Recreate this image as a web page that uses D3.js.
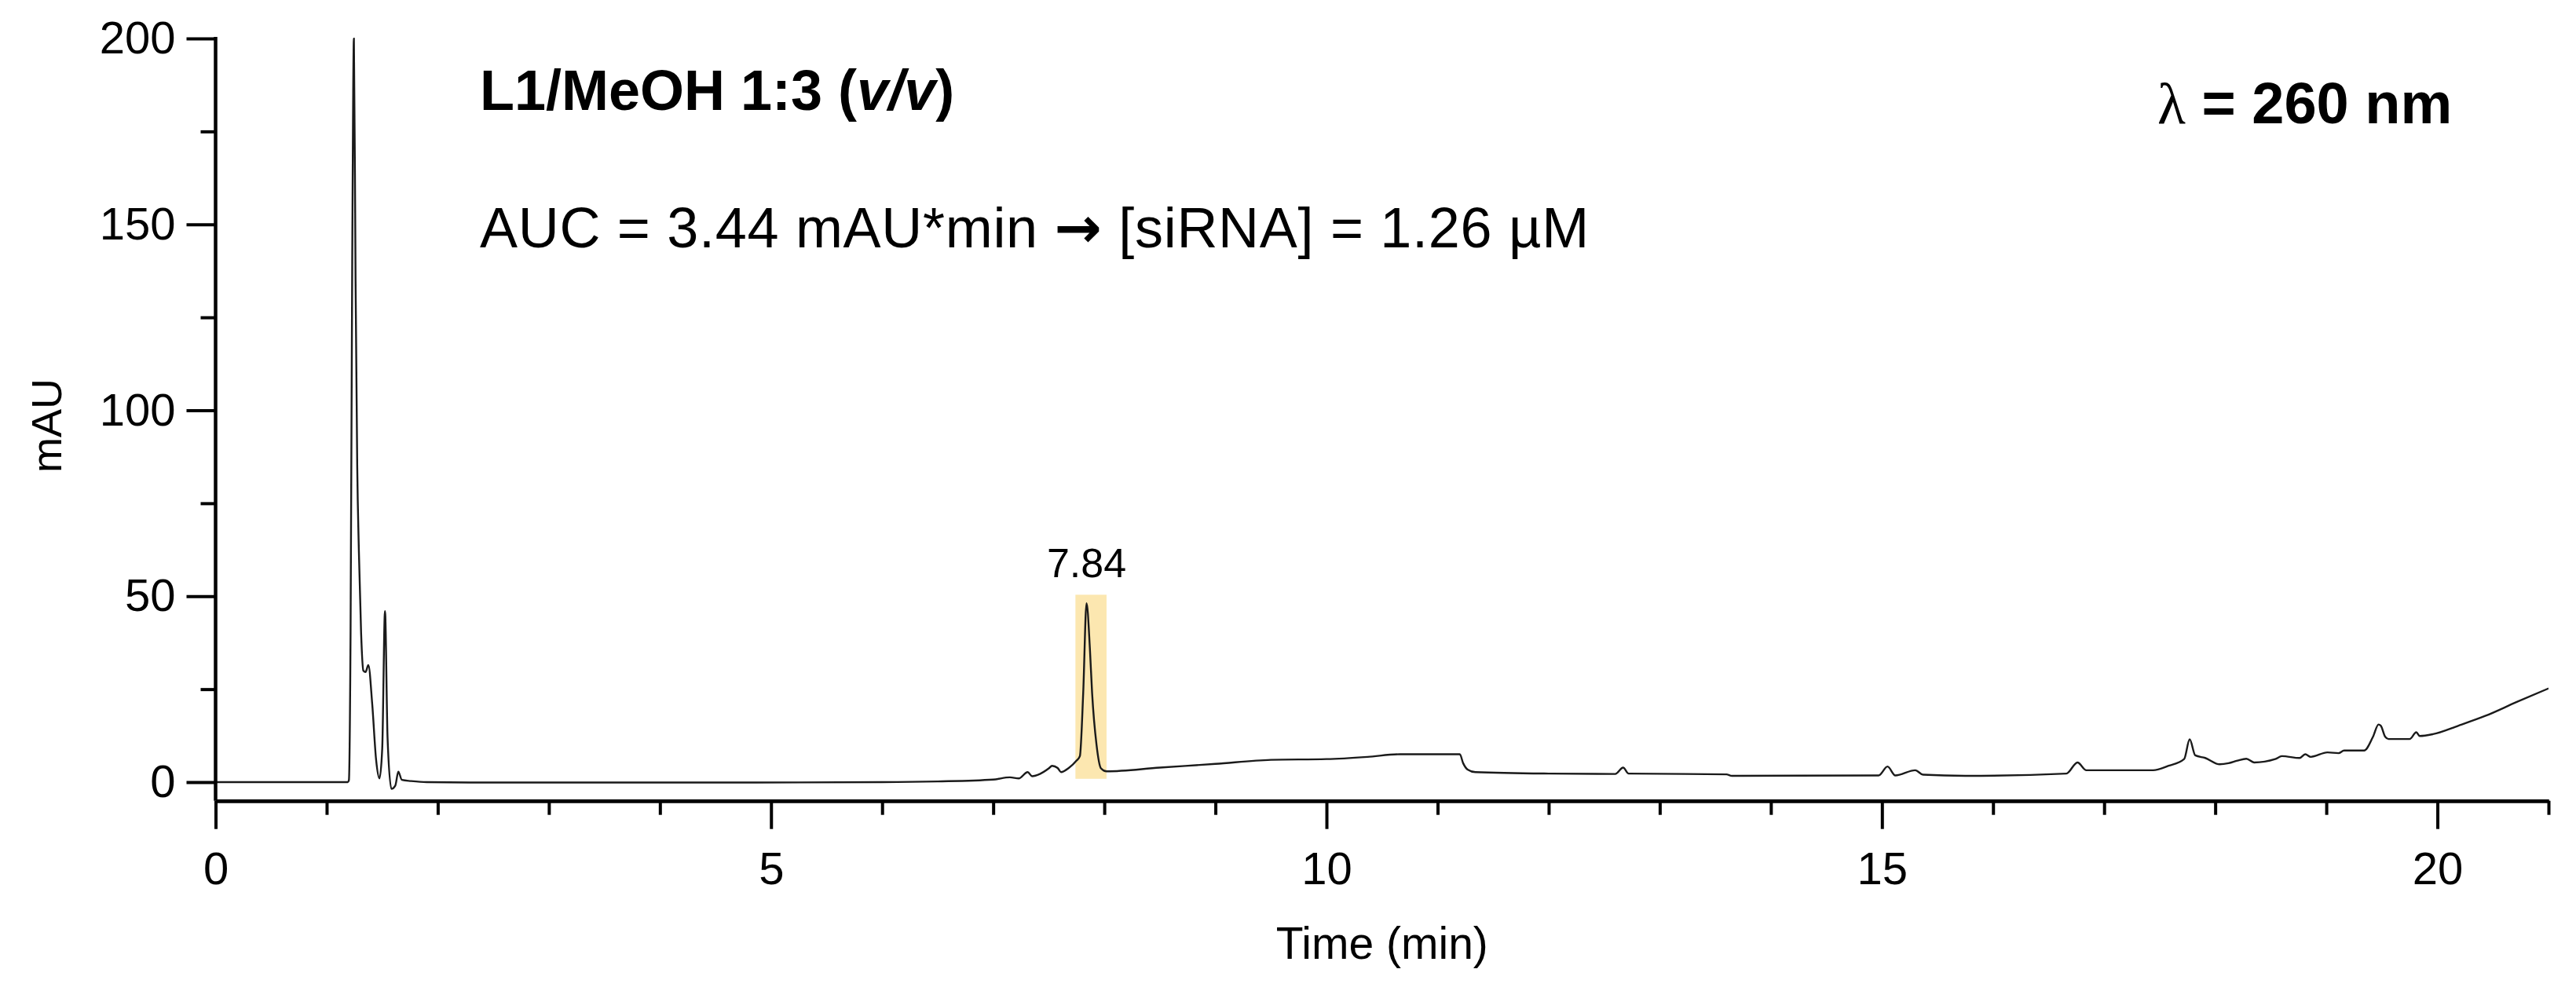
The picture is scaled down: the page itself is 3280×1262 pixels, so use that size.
<!DOCTYPE html>
<html>
<head>
<meta charset="utf-8">
<script src="https://cdn.jsdelivr.net/npm/d3@7"></script>
<style>
  body { margin: 0; background: #fff; }
  svg { display: block; font-family: "Liberation Sans", Arial, sans-serif; }
</style>
</head>
<body>
<svg id="chart"></svg>
<script>
// Chromatogram data (time in min, signal in mAU)
var timeMin = [0, 1.0, 1.19, 1.20, 1.215, 1.23, 1.245, 1.26, 1.275, 1.29,
  1.31, 1.33, 1.35, 1.375, 1.41, 1.445, 1.475, 1.50, 1.525, 1.548,
  1.583, 1.618, 1.645, 1.677, 1.76, 1.9, 2.5, 3.5, 4.86, 6.0,
  6.5, 7.0, 7.15, 7.23, 7.31, 7.35, 7.42, 7.5, 7.53, 7.58,
  7.61, 7.68, 7.75, 7.78, 7.81, 7.84, 7.87, 7.89, 7.93, 7.97,
  8.02, 8.5, 9.0, 9.5, 10.0, 10.37, 10.66, 11.2, 11.23, 11.27,
  11.34, 12.0, 12.6, 12.67, 12.72, 13.6, 13.65, 14.97, 15.05, 15.12,
  15.30, 15.37, 15.75, 16.66, 16.76, 16.84, 17.44, 17.58, 17.72, 17.77,
  17.82, 17.91, 18.04, 18.12, 18.2, 18.28, 18.35, 18.54, 18.6, 18.76,
  18.81, 18.86, 19.01, 19.11, 19.16, 19.34, 19.42, 19.47, 19.49, 19.53,
  19.56, 19.75, 19.81, 19.84, 19.96, 20.19, 20.43, 20.71, 21.0];

var signal = [0, 0, 0, 0.5, 40, 140, 200, 135, 85, 62,
  40, 30, 29.6, 31.5, 21, 6, 1, 9, 46, 12,
  -1.8, -0.9, 2.8, 0.6, 0.3, 0, -0.1, -0.1, -0.1, 0,
  0.2, 0.7, 1.3, 1.0, 2.7, 1.6, 2.2, 3.7, 4.4, 3.8,
  2.7, 3.8, 5.8, 7.0, 24, 48.1, 36, 24, 10, 3.7,
  2.9, 3.9, 4.9, 6.0, 6.2, 6.8, 7.5, 7.5, 5.1, 3.4,
  2.7, 2.3, 2.2, 3.9, 2.3, 2.1, 1.7, 1.8, 4.2, 1.8,
  3.2, 2.0, 1.7, 2.3, 5.3, 3.2, 3.2, 4.4, 6.2, 11.5,
  7.2, 6.5, 4.8, 5.1, 5.8, 6.3, 5.3, 6.2, 7.0, 6.5,
  7.5, 6.8, 8.0, 7.8, 8.5, 8.5, 12.2, 15.5, 15.2, 12.2,
  11.6, 11.6, 13.4, 12.4, 12.9, 15.2, 17.8, 21.5, 25.2];

var xMajorTicks = [0, 5, 10, 15, 20];
var xMinorTicks = d3.range(0, 22).filter(function(t){ return t % 5 != 0; });
var yMajorTicks = [0, 50, 100, 150, 200];
var yMinorTicks = [25, 75, 125, 175];

// highlighted peak: label, time window and signal window
var peakTime = 7.84;
var peakLabel = "7.84";
var peakWindow = [7.74, 8.02];
var peakRange = [0.9, 50.4];

var W = 3280, H = 1262;
var plot = {left: 274.5, right: 3245, top: 49, bottom: 1019.7};

var svg = d3.select("#chart").attr("width", W).attr("height", H);

var x = d3.scaleLinear().domain([0, 21]).range([plot.left, plot.right]),
    y = d3.scaleLinear().domain([-5, 200]).range([plot.bottom, plot.top]);

var data = d3.zip(timeMin, signal);

//Peak highlight box (drawn under the trace)
svg.append("rect")
  .attr("x", x(peakWindow[0]))
  .attr("y", y(peakRange[1]))
  .attr("width", x(peakWindow[1]) - x(peakWindow[0]))
  .attr("height", y(peakRange[0]) - y(peakRange[1]))
  .style("fill", "#fce7b0");

svg.append("defs").append("clipPath").attr("id", "clip")
  .append("rect")
    .attr("x", plot.left).attr("y", plot.top - 1)
    .attr("width", plot.right - plot.left).attr("height", plot.bottom - plot.top);

var line = d3.line()
  .x(function(d){ return x(d[0]); })
  .y(function(d){ return y(d[1]); })
  .curve(d3.curveMonotoneX);

svg.append("path")
  .datum(data)
  .attr("clip-path", "url(#clip)")
  .attr("d", line)
  .style("fill", "none")
  .style("stroke", "#1a1a1a")
  .style("stroke-width", "2.4px")
  .style("stroke-linejoin", "round");

//X axis: minor ticks then major ticks with labels
var xAxisG = svg.append("g").attr("transform", "translate(0," + plot.bottom + ")");
xAxisG.append("g")
  .call(d3.axisBottom(x).tickValues(xMinorTicks).tickSize(18).tickSizeOuter(0).tickFormat(""));
xAxisG.append("g")
  .call(d3.axisBottom(x).tickValues(xMajorTicks).tickSize(36).tickSizeOuter(0).tickPadding(29).tickFormat(d3.format("d")));

//Y axis
var yAxisG = svg.append("g").attr("transform", "translate(" + plot.left + ",0)");
yAxisG.append("g")
  .call(d3.axisLeft(y).tickValues(yMinorTicks).tickSize(19).tickSizeOuter(0).tickFormat(""));
yAxisG.append("g")
  .call(d3.axisLeft(y).tickValues(yMajorTicks).tickSize(37).tickSizeOuter(0).tickPadding(14).tickFormat(d3.format("d")));

// y axis domain should stop at 200, not at the bottom of the range
yAxisG.selectAll(".domain").remove();
yAxisG.append("line")
  .attr("x1", 0).attr("x2", 0)
  .attr("y1", y(200) - 2).attr("y2", plot.bottom)
  .style("stroke", "#000").style("stroke-width", "4.5px");

svg.selectAll(".domain").style("stroke", "#000").style("stroke-width", "4.5px");
svg.selectAll(".tick line").style("stroke", "#000").style("stroke-width", "4px");
svg.selectAll(".tick text")
  .style("font-family", "'Liberation Sans', Arial, sans-serif")
  .style("font-size", "58px")
  .style("fill", "#000");

//Axis titles
svg.append("text")
  .attr("x", (plot.left + plot.right) / 2)
  .attr("y", 1221)
  .style("text-anchor", "middle")
  .style("font-size", "57px")
  .text("Time (min)");

svg.append("text")
  .attr("transform", "translate(78," + 542 + ") rotate(-90)")
  .style("text-anchor", "middle")
  .style("font-size", "54px")
  .text("mAU");

//Peak retention time label
svg.append("text")
  .attr("x", x(peakTime))
  .attr("y", 735)
  .style("text-anchor", "middle")
  .style("font-size", "52px")
  .text(peakLabel);

//Sample title
var title = svg.append("text")
  .attr("x", 611)
  .attr("y", 140)
  .style("font-size", "72px")
  .style("font-weight", "bold");
title.append("tspan").text("L1/MeOH 1:3 (");
title.append("tspan").style("font-style", "italic").text("v/v");
title.append("tspan").text(")");

var auc = svg.append("text")
  .attr("x", 611)
  .attr("y", 315)
  .style("font-size", "72px")
  .style("letter-spacing", "0.7px");
auc.append("tspan").text("AUC = 3.44 mAU*min ");
auc.append("tspan")
  .style("font-family", "'DejaVu Sans', sans-serif")
  .style("font-weight", "bold")
  .text("\u2192");
auc.append("tspan").text(" [siRNA] = 1.26 \u00B5M");

//Wavelength
var lambda = svg.append("text")
  .attr("x", 2747)
  .attr("y", 157)
  .style("font-size", "74px");
lambda.append("tspan")
  .style("font-family", "'Liberation Serif', 'DejaVu Serif', serif")
  .text("\u03BB");
lambda.append("tspan")
  .style("font-weight", "bold")
  .text(" = 260 nm");
</script>
</body>
</html>
